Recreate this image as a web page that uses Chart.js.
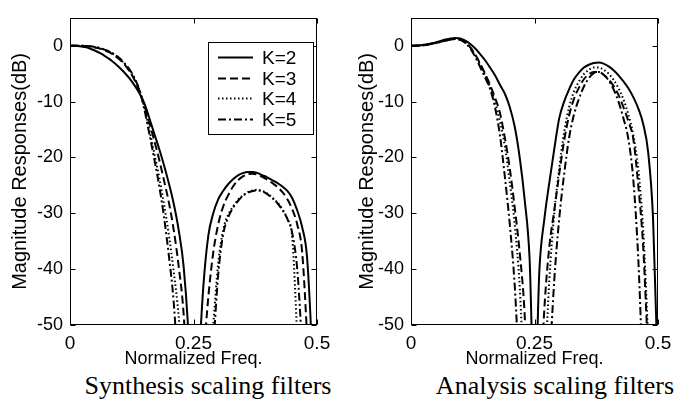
<!DOCTYPE html>
<html><head><meta charset="utf-8">
<script src="https://cdn.jsdelivr.net/npm/chart.js@4/dist/chart.umd.min.js"></script>
<style>
html,body{margin:0;padding:0;background:#fff;}
#wrap{position:relative;width:696px;height:410px;overflow:hidden;background:#fff;}
.pane{position:absolute;top:0;width:348px;height:370px;}
.cap{position:absolute;top:372px;font-family:"Liberation Serif","Times New Roman",serif;font-size:26px;line-height:27px;color:#000;white-space:nowrap;transform:translateX(-50%);}
</style></head>
<body><div id="wrap">
<div class="pane" style="left:0"><canvas id="c1" width="348" height="370"></canvas></div>
<div class="pane" style="left:348px"><canvas id="c2" width="348" height="370"></canvas></div>
<div class="cap" style="left:208px">Synthesis scaling filters</div>
<div class="cap" style="left:555px">Analysis scaling filters</div>
</div>
<script>
// Normalized frequency samples
const freq = [0,0.01,0.02,0.03,0.04,0.05,0.06,0.07,0.08,0.09,0.10,0.11,0.12,0.13,0.14,0.15,0.16,0.17,0.18,0.19,0.20,0.21,0.22,0.23,0.24,0.25,0.26,0.27,0.28,0.29,0.30,0.31,0.32,0.33,0.34,0.35,0.36,0.37,0.38,0.39,0.40,0.41,0.42,0.43,0.44,0.45,0.46,0.47,0.48,0.49,0.50];
const seriesLabels = ['K=2','K=3','K=4','K=5'];
const xTickValues = [0, 0.25, 0.5];
const yTickValues = [-50, -40, -30, -20, -10, 0];

// Synthesis scaling filters (dB)
const synK2 = [0,-0.02,-0.1,-0.25,-0.5,-0.85,-1.3,-1.8,-2.4,-3.1,-3.9,-4.8,-5.8,-7.0,-8.4,-10.2,-12.8,-15.6,-18.3,-21.3,-24.6,-28.3,-33,-39.5,-52,-75,-58,-43,-34,-30,-27.5,-26,-24.8,-23.9,-23.2,-22.8,-22.6,-22.6,-22.8,-23.2,-23.6,-24.1,-24.6,-25.2,-26.0,-27.3,-29.5,-32.5,-38,-55,-80];
const synK3 = [0,0,-0.02,-0.06,-0.15,-0.3,-0.5,-0.8,-1.2,-1.75,-2.4,-3.3,-4.5,-6.0,-8.0,-10.6,-13.6,-16.8,-20.2,-24,-28,-33,-39.5,-48,-65,-80,-65,-56,-45,-37,-32,-28.8,-26.8,-25.2,-24.1,-23.4,-23.0,-22.9,-23.1,-23.5,-24.0,-24.6,-25.3,-26.2,-27.5,-29.3,-32,-37,-52,-70,-62];
const synK4 = [0,0,0,-0.03,-0.1,-0.25,-0.45,-0.75,-1.1,-1.6,-2.3,-3.2,-4.3,-5.8,-7.8,-10.8,-14.8,-19,-23.3,-28.2,-33.8,-40.5,-48.5,-62,-75,-80,-75,-70,-62,-50,-39,-33,-30.3,-28.8,-27.6,-26.8,-26.2,-25.9,-25.8,-26.0,-26.5,-27.2,-28.1,-29.3,-31,-34.5,-52,-70,-75,-75,-70];
const synK5 = [0,0,0,-0.03,-0.1,-0.22,-0.4,-0.7,-1.05,-1.55,-2.2,-3.1,-4.2,-5.7,-7.8,-11.2,-15.5,-20,-24.8,-30.5,-37.5,-46,-60,-75,-80,-72,-70,-72,-65,-54,-41,-33.8,-30.8,-29,-27.8,-26.9,-26.3,-26.0,-25.9,-26.1,-26.6,-27.3,-28.2,-29.4,-31,-33.6,-40,-54,-70,-75,-70];

// Analysis scaling filters (dB)
const anaK2 = [0,0.02,0.1,0.22,0.4,0.6,0.85,1.1,1.3,1.4,1.3,0.9,0.3,-0.5,-1.5,-2.6,-3.9,-5.3,-7.0,-8.6,-11,-14.5,-20,-27.5,-38,-65,-40,-31,-24.5,-18.5,-13,-10,-7.8,-6.0,-4.8,-3.9,-3.4,-3.1,-3.0,-3.2,-3.7,-4.4,-5.3,-6.4,-7.6,-9.2,-11.2,-14,-19,-31,-60];
const anaK3 = [0,0,0.05,0.15,0.3,0.5,0.7,0.9,1.1,1.2,1.1,0.6,-0.3,-1.6,-3.2,-5.0,-7.0,-9.3,-12,-16.5,-22,-29,-37,-48,-70,-75,-65,-47,-36,-29.5,-23,-17,-12.5,-9.5,-7.5,-6.0,-5.1,-4.7,-4.7,-5.2,-6.0,-7.2,-8.8,-11,-13.5,-16.7,-25,-36,-55,-70,-60];
const anaK4 = [0,0,0.05,0.15,0.3,0.5,0.75,0.95,1.15,1.25,1.1,0.6,-0.3,-1.7,-3.4,-5.3,-7.4,-10,-13.5,-18,-24.5,-32,-43,-62,-75,-80,-75,-60,-42,-30,-22,-15.5,-11,-8.2,-6.4,-5.1,-4.3,-3.9,-3.9,-4.3,-5.0,-6.1,-7.6,-9.6,-12.3,-16,-22,-33,-52,-70,-65];
const anaK5 = [0,0,0.05,0.15,0.3,0.5,0.7,0.9,1.1,1.2,1.05,0.5,-0.5,-2,-3.8,-5.7,-7.7,-11,-16,-23.5,-32,-43,-60,-75,-70,-68,-70,-75,-58,-42,-31,-23,-16.5,-12.3,-9.5,-7.3,-5.8,-4.9,-4.7,-5.2,-6.2,-7.8,-10,-13,-16.7,-24,-38,-60,-75,-70,-65];

const dashes = [[], [8,4], [1.5,2.5], [8,3,2,3]];
const FONT = '"Liberation Sans", Arial, Helvetica, sans-serif';

const framePlugin = {
  id: 'frame',
  afterDatasetsDraw(chart) {
    const {ctx, chartArea: a, scales: {x, y}} = chart;
    ctx.save();
    ctx.strokeStyle = '#000'; ctx.lineWidth = 1; ctx.setLineDash([]);
    const L = Math.round(a.left) + 0.5, R = Math.round(a.right) - 0.5;
    const T = Math.round(a.top) + 0.5, B = Math.round(a.bottom) - 0.5;
    ctx.strokeRect(L, T, R - L, B - T);
    const len = 5;
    ctx.beginPath();
    x.ticks.forEach(t => {
      const p = Math.round(x.getPixelForValue(t.value)) + 0.5;
      ctx.moveTo(p, B); ctx.lineTo(p, B - len);
      ctx.moveTo(p, T); ctx.lineTo(p, T + len);
    });
    y.ticks.forEach(t => {
      const p = Math.round(y.getPixelForValue(t.value)) + 0.5;
      ctx.moveTo(L, p); ctx.lineTo(L + len, p);
      ctx.moveTo(R, p); ctx.lineTo(R - len, p);
    });
    ctx.stroke();
    ctx.restore();
  }
};

const boxLegend = {
  id: 'boxLegend',
  afterDatasetsDraw(chart, args, o) {
    if (!o || !o.show) return;
    const ctx = chart.ctx;
    ctx.save();
    ctx.fillStyle = '#fff'; ctx.fillRect(o.x, o.y, o.w, o.h);
    ctx.strokeStyle = '#000'; ctx.lineWidth = 1; ctx.setLineDash([]);
    ctx.strokeRect(o.x + 0.5, o.y + 0.5, o.w, o.h);
    chart.data.datasets.forEach((ds, i) => {
      const cy = Math.round(o.y + o.rowTop + i * o.rowGap) + 0.5;
      ctx.setLineDash(ds.borderDash || []);
      ctx.lineWidth = ds.borderWidth;
      ctx.beginPath(); ctx.moveTo(o.x + o.lineX0, cy); ctx.lineTo(o.x + o.lineX1, cy); ctx.stroke();
      ctx.setLineDash([]);
      ctx.fillStyle = '#000';
      ctx.font = '19px ' + FONT;
      ctx.textBaseline = 'middle'; ctx.textAlign = 'left';
      ctx.fillText(ds.label, o.x + o.textX, cy + 1);
    });
    ctx.restore();
  }
};

function build(id, series, yW, padR, titlePad, legendOpts) {
  return new Chart(document.getElementById(id), {
    type: 'line',
    data: {
      datasets: series.map((s, i) => ({
        label: seriesLabels[i],
        data: freq.map((f, j) => ({x: f, y: s[j]})),
        borderColor: '#000',
        borderWidth: 2,
        borderDash: dashes[i],
        pointRadius: 0,
        fill: false,
        cubicInterpolationMode: 'monotone'
      }))
    },
    options: {
      responsive: false,
      animation: false,
      devicePixelRatio: 1,
      layout: {padding: {left: 0, right: padR, top: 4, bottom: 0}},
      plugins: {legend: {display: false}, tooltip: {enabled: false}, boxLegend: legendOpts},
      scales: {
        x: {
          type: 'linear', min: 0, max: 0.5,
          grid: {display: false, drawTicks: false},
          border: {display: false},
          afterBuildTicks: s => { s.ticks = xTickValues.map(v => ({value: v})); },
          afterFit: s => { s.height = 45; },
          ticks: {padding: 7, color: '#000', font: {family: FONT, size: 19}, callback: v => String(v), maxRotation: 0, autoSkip: false},
          title: {display: true, text: 'Normalized Freq.', color: '#000', font: {family: FONT, size: 18}, padding: 0}
        },
        y: {
          type: 'linear', min: -50, max: 5,
          grid: {display: false, drawTicks: false},
          border: {display: false},
          afterBuildTicks: s => { s.ticks = yTickValues.map(v => ({value: v})); },
          afterFit: s => { s.width = yW; },
          ticks: {padding: 7, color: '#000', font: {family: FONT, size: 18}, callback: v => String(v), autoSkip: false},
          title: {display: true, text: 'Magnitude Responses(dB)', color: '#000', font: {family: FONT, size: 20}, padding: {top: titlePad, bottom: 0}}
        }
      }
    },
    plugins: [framePlugin, boxLegend]
  });
}

build('c1', [synK2, synK3, synK4, synK5], 70, 31, 8,
  {show: true, x: 208, y: 42, w: 105, h: 92, rowTop: 15, rowGap: 20.7, lineX0: 10, lineX1: 45, textX: 54});
build('c2', [anaK2, anaK3, anaK4, anaK5], 63, 38, 7, {show: false});
</script>
</body></html>
